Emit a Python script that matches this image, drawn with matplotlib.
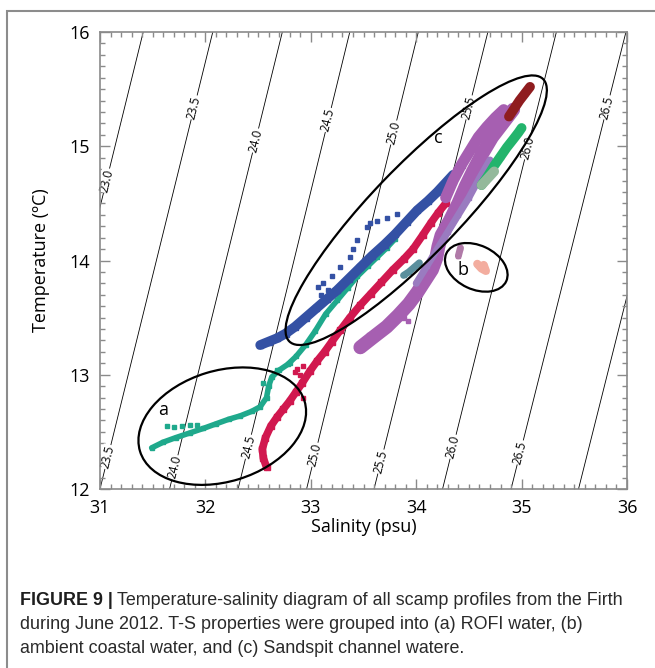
import numpy as np
import matplotlib
matplotlib.use("Agg")
import matplotlib.pyplot as plt
import matplotlib.transforms as mtransforms
from matplotlib.patches import Ellipse, Rectangle
from matplotlib.ticker import MultipleLocator

plt.rcParams["font.family"] = ["Open Sans", "DejaVu Sans"]

# sigma-t isopycnals: salinity where each line meets 12 and 16 degC
sigma_levels = [23.0, 23.5, 24.0, 24.5, 25.0, 25.5, 26.0, 26.5, 27.0]
sigma_s_at_12 = [30.34, 31.00, 31.66, 32.31, 32.96, 33.60, 34.25, 34.90, 35.54]
sigma_s_at_16 = [31.41, 32.07, 32.73, 33.37, 34.02, 34.68, 35.33, 35.99, 36.63]
iso_temps = [12.0, 16.0]

# temperatures at which the contour labels sit
upper_label_t = {23.0: 14.70, 23.5: 15.34, 24.0: 15.05, 24.5: 15.23, 25.0: 15.12,
                 25.5: 15.34, 26.0: 14.99, 26.5: 15.34}
lower_label_t = {23.5: 12.28, 24.0: 12.19, 24.5: 12.37, 25.0: 12.30, 25.5: 12.24,
                 26.0: 12.37, 26.5: 12.32}

# profiles
teal_s = [31.49, 31.60, 31.72, 31.85, 31.98, 32.10, 32.22, 32.33, 32.44, 32.52, 32.58, 32.60,
          32.63, 32.70, 32.78, 32.86, 32.95, 33.04, 33.14, 33.25, 33.35, 33.44, 33.54, 33.63,
          33.72, 33.80]
teal_t = [12.36, 12.41, 12.45, 12.49, 12.53, 12.57, 12.61, 12.64, 12.68, 12.72, 12.80, 12.90,
          12.98, 13.04, 13.09, 13.16, 13.26, 13.38, 13.53, 13.65, 13.76, 13.86, 13.95, 14.03,
          14.11, 14.19]
teal_dots_s = [31.64, 31.70, 31.78, 31.85, 31.92, 32.55, 32.68, 32.80]
teal_dots_t = [12.55, 12.54, 12.55, 12.56, 12.56, 12.93, 13.04, 13.10]

blue_s = [32.52, 32.60, 32.68, 32.76, 32.85, 32.95, 33.05, 33.15, 33.25, 33.36, 33.47, 33.58,
          33.70, 33.80, 33.91, 34.01, 34.11, 34.20, 34.28, 34.35]
blue_t = [13.26, 13.29, 13.32, 13.36, 13.42, 13.50, 13.58, 13.66, 13.74, 13.84, 13.94, 14.04,
          14.14, 14.23, 14.34, 14.44, 14.52, 14.60, 14.68, 14.75]
blue_dots_s = [33.07, 33.12, 33.16, 33.10, 33.28, 33.37, 33.44, 33.53, 33.63, 33.72, 33.82,
               33.56, 33.40, 33.20]
blue_dots_t = [13.77, 13.80, 13.74, 13.70, 13.94, 14.03, 14.18, 14.29, 14.35, 14.37, 14.41,
               14.33, 14.10, 13.86]

crimson_s = [32.58, 32.55, 32.54, 32.57, 32.62, 32.68, 32.74, 32.80, 32.86, 32.92, 32.99, 33.06,
             33.13, 33.20, 33.28, 33.37, 33.47, 33.57, 33.67, 33.78, 33.88, 33.97, 34.06, 34.14,
             34.21, 34.28]
crimson_t = [12.19, 12.27, 12.35, 12.45, 12.55, 12.63, 12.70, 12.77, 12.85, 12.93, 13.03, 13.12,
             13.20, 13.29, 13.39, 13.50, 13.61, 13.71, 13.81, 13.92, 14.01, 14.10, 14.22, 14.33,
             14.42, 14.50]
crimson_dots_s = [32.87, 32.90, 32.93, 32.85, 32.93]
crimson_dots_t = [13.05, 13.00, 13.08, 13.02, 12.80]

purple_s = [33.47, 33.58, 33.72, 33.83, 33.93, 34.01, 34.08, 34.15, 34.19, 34.21, 34.24, 34.32,
            34.40, 34.47, 34.55, 34.63, 34.72, 34.82, 34.92]
purple_t = [13.24, 13.32, 13.42, 13.52, 13.62, 13.72, 13.82, 13.92, 14.02, 14.12, 14.22, 14.35,
            14.50, 14.65, 14.80, 14.94, 15.08, 15.20, 15.32]
purple_left_s = [34.28, 34.35, 34.43, 34.51, 34.59, 34.67, 34.75, 34.83]
purple_left_t = [14.55, 14.70, 14.84, 14.96, 15.08, 15.17, 15.25, 15.32]
purple_dots_s = [34.48, 34.52, 34.58, 34.63, 34.46, 34.55, 33.88, 33.92, 33.86, 33.50, 33.55]
purple_dots_t = [14.95, 14.99, 14.97, 14.93, 14.90, 15.00, 13.50, 13.47, 13.53, 13.29, 13.35]

lavender_s = [34.00, 34.10, 34.20, 34.30, 34.40, 34.50, 34.60, 34.70]
lavender_t = [13.80, 13.95, 14.10, 14.25, 14.40, 14.55, 14.72, 14.88]

green_s = [34.62, 34.68, 34.74, 34.80, 34.86, 34.92, 34.97, 35.00]
green_t = [14.66, 14.74, 14.83, 14.91, 14.99, 15.06, 15.12, 15.16]
sage_s = [34.62, 34.66, 34.70, 34.74]
sage_t = [14.66, 14.70, 14.74, 14.78]

darkred_s = [34.88, 34.93, 34.98, 35.03, 35.08]
darkred_t = [15.26, 15.33, 15.40, 15.46, 15.52]

slate_s = [33.88, 33.93, 33.98, 34.03]
slate_t = [13.87, 13.90, 13.94, 13.98]

mauve_s = [34.40, 34.42]
mauve_t = [14.04, 14.11]
salmon_s = [34.58, 34.62, 34.66, 34.64]
salmon_t = [13.97, 13.93, 13.91, 13.96]

fig = plt.figure(figsize=(6.55, 6.68), dpi=100)
ax = fig.add_axes([100 / 655, 1 - 489 / 668, 527 / 655, 457 / 668])
ax.set_xlim(31, 36)
ax.set_ylim(12, 16)

# isopycnals + labels
for lev, s12, s16 in zip(sigma_levels, sigma_s_at_12, sigma_s_at_16):
    ax.plot([s12, s16], iso_temps, color="black", lw=0.6, zorder=1)
    p1 = ax.transData.transform((s12, 12.0))
    p2 = ax.transData.transform((s16, 16.0))
    ang = np.degrees(np.arctan2(p2[1] - p1[1], p2[0] - p1[0]))
    for table in (upper_label_t, lower_label_t):
        if lev in table:
            t = table[lev]
            s = np.interp(t, iso_temps, [s12, s16])
            ax.text(s, t, f"{lev:.1f}", rotation=ang, ha="center", va="center",
                    fontsize=8.5, zorder=2, rotation_mode="anchor",
                    bbox=dict(facecolor="white", edgecolor="none", pad=0.5))


# profiles
def band(s, t, color, lw, ms=3.5):
    ax.plot(s, t, "-", color=color, lw=lw, solid_capstyle="round",
            solid_joinstyle="round", zorder=3)
    ax.plot(s, t, "s", color=color, ms=ms, zorder=3)


band(teal_s, teal_t, "#1fa98c", 4)
ax.plot(teal_dots_s, teal_dots_t, "s", color="#1fa98c", ms=2.5, zorder=3)
band(blue_s, blue_t, "#3451a4", 7, ms=5)
ax.plot(blue_dots_s, blue_dots_t, "s", color="#3451a4", ms=2.5, zorder=3)
band(crimson_s, crimson_t, "#d1184f", 5.5, ms=4.5)
ax.plot(crimson_dots_s, crimson_dots_t, "s", color="#d1184f", ms=2.5, zorder=3)
band(purple_s, purple_t, "#a65fb1", 10, ms=5)
band(purple_left_s, purple_left_t, "#a65fb1", 8, ms=4)
band(lavender_s, lavender_t, "#9a7bc0", 5)
ax.plot(purple_dots_s, purple_dots_t, "s", color="#a65fb1", ms=3, zorder=3)
band(green_s, green_t, "#23b46c", 7)
band(sage_s, sage_t, "#93b99b", 7)
band(darkred_s, darkred_t, "#8f1c1f", 7)
band(slate_s, slate_t, "#5a8f9d", 5)
band(mauve_s, mauve_t, "#b07aa8", 5)
band(salmon_s, salmon_t, "#f3ad9f", 6)


# group ellipses (size in inches, centre in data units)
def group(cx, cy, w, h, angle):
    tr = fig.dpi_scale_trans + mtransforms.ScaledTranslation(cx, cy, ax.transData)
    ax.add_patch(Ellipse((0, 0), w, h, angle=angle, transform=tr, fill=False,
                         edgecolor="black", lw=1.6, zorder=4, clip_on=False))


group(34.00, 14.44, 3.65, 0.88, 46)
group(32.16, 12.55, 1.72, 1.11, 17)
group(34.57, 13.94, 0.66, 0.44, -25)

ax.text(31.60, 12.69, "a", fontsize=13, ha="center", va="center", zorder=5)
ax.text(34.44, 13.92, "b", fontsize=13, ha="center", va="center", zorder=5)
ax.text(34.21, 15.07, "c", fontsize=13, ha="center", va="center", zorder=5)

ax.xaxis.set_major_locator(MultipleLocator(1))
ax.xaxis.set_minor_locator(MultipleLocator(0.1))
ax.yaxis.set_major_locator(MultipleLocator(1))
ax.yaxis.set_minor_locator(MultipleLocator(0.1))
ax.tick_params(which="both", direction="in", top=True, right=True, color="#8a8a8a",
               width=1.0)
ax.tick_params(which="major", length=7, labelsize=13, pad=7)
ax.tick_params(which="minor", length=3.5)
for sp in ax.spines.values():
    sp.set_color("#8a8a8a")
    sp.set_linewidth(1.2)

ax.set_xlabel("Salinity (psu)", fontsize=13, labelpad=1)
ax.set_ylabel("Temperature (ºC)", fontsize=13, labelpad=14)

# figure frame (open to the right and bottom)
fig.add_artist(Rectangle((7 / 655, -0.1), 1.2, 1.1 - 11 / 668, transform=fig.transFigure,
                         fill=False, edgecolor="#8c8c8c", lw=1.5))

cap_font = ["Liberation Sans", "DejaVu Sans"]
cap_size = 12.9
x0 = 20 / 655
bold = fig.text(x0, 1 - 605 / 668, "FIGURE 9 |", fontsize=cap_size, fontweight="bold",
                family=cap_font, va="baseline", color="#1e1e1e")
fig.canvas.draw()
ext = bold.get_window_extent(fig.canvas.get_renderer())
fig.text((ext.x1 + 4) / 655, 1 - 605 / 668,
         "Temperature-salinity diagram of all scamp profiles from the Firth",
         fontsize=cap_size, family=cap_font, va="baseline", color="#2a2a2a")
fig.text(x0, 1 - 629 / 668,
         "during June 2012. T-S properties were grouped into (a) ROFI water, (b)",
         fontsize=cap_size, family=cap_font, va="baseline", color="#2a2a2a")
fig.text(x0, 1 - 653 / 668,
         "ambient coastal water, and (c) Sandspit channel watere.",
         fontsize=cap_size, family=cap_font, va="baseline", color="#2a2a2a")

fig.savefig("out.png", dpi=100)
